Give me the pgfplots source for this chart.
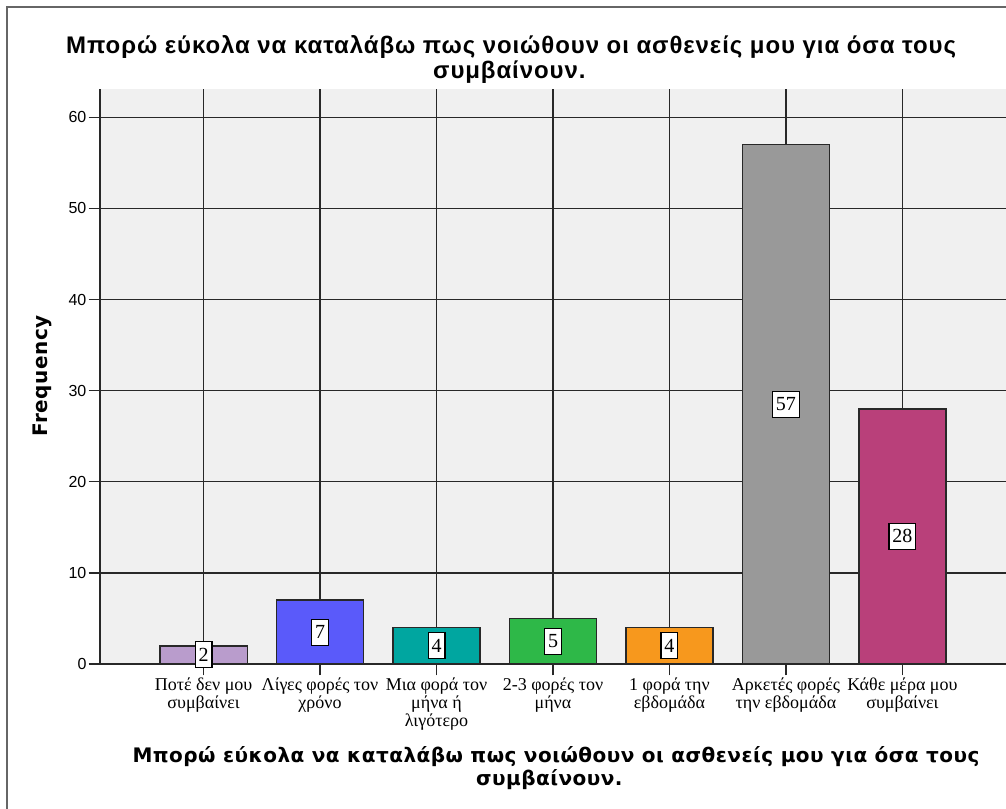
\documentclass[border=0pt]{standalone}
\usepackage{pgfplots}
\pgfplotsset{compat=1.18}
\usepackage{fontspec}
\setmainfont{Liberation Serif}
\newfontfamily\arial{Liberation Sans}
\newfontfamily\arialT{Liberation Sans}[LetterSpace=3.8]
\newfontfamily\dejavu{DejaVu Sans}
\newfontfamily\dejavuT{DejaVu Sans}[LetterSpace=2.4]
\definecolor{bgray}{RGB}{240,240,240}
\definecolor{gridc}{RGB}{40,40,40}
\definecolor{c1}{RGB}{185,156,204}
\definecolor{c2}{RGB}{90,90,250}
\definecolor{c3}{RGB}{0,166,160}
\definecolor{c4}{RGB}{46,184,72}
\definecolor{c5}{RGB}{247,152,29}
\definecolor{c6}{RGB}{153,153,153}
\definecolor{c7}{RGB}{185,64,122}
\begin{document}
\begin{tikzpicture}
\useasboundingbox (0,0) rectangle (754.5pt,-606pt);
\draw[black!60, line width=1.5pt] (5.25pt,-620pt) -- (5.25pt,-5.25pt) -- (770pt,-5.25pt);
\begin{axis}[
  at={(75pt,-498pt)}, anchor=south west,
  scale only axis, width=679.5pt, height=431.25pt,
  xmin=0.111, xmax=7.889, ymin=0, ymax=63.1,
  axis background/.style={fill=bgray},
  axis x line*=bottom, axis y line*=left,
  axis line style={-, gridc, line width=1.1pt},
  xtick={1,2,3,4,5,6,7}, ytick={0,10,20,30,40,50,60},
  xticklabels={{Ποτέ δεν μου\\συμβαίνει},{Λίγες φορές τον\\χρόνο},{Μια φορά τον\\μήνα ή\\λιγότερο},{2-3 φορές τον\\μήνα},{1 φορά την\\εβδομάδα},{Αρκετές φορές\\την εβδομάδα},{Κάθε μέρα μου\\συμβαίνει}},
  xticklabel style={font=\fontsize{13.5}{11.6}\selectfont, align=center, anchor=north, inner sep=0pt, yshift=-2pt},
  yticklabel style={font=\arial\fontsize{12}{14}\selectfont, anchor=east, inner sep=0pt, xshift=-1.5pt},
  /pgf/number format/assume math mode=true,
  tick align=outside, major tick length=8.5pt,
  tick style={gridc, line width=1.1pt},
  grid=major, major grid style={gridc, line width=1.1pt},
  ybar, bar width=0.75, bar shift=0pt,
  nodes near coords, nodes near coords align={center},
  visualization depends on={rawy \as \rawy},
  every node near coord/.append style={yshift={-\rawy*3.4172pt}, fill=white, draw=black, line width=0.8pt, font=\fontsize{15}{15}\selectfont, inner xsep=2.6pt, inner ysep=0pt, minimum height=19.5pt, text=black},
]
\addplot[fill=c1, draw=gridc, line width=1.1pt] coordinates {(1,2)};
\addplot[fill=c2, draw=gridc, line width=1.1pt] coordinates {(2,7)};
\addplot[fill=c3, draw=gridc, line width=1.1pt] coordinates {(3,4)};
\addplot[fill=c4, draw=gridc, line width=1.1pt] coordinates {(4,5)};
\addplot[fill=c5, draw=gridc, line width=1.1pt] coordinates {(5,4)};
\addplot[fill=c6, draw=gridc, line width=1.1pt] coordinates {(6,57)};
\addplot[fill=c7, draw=gridc, line width=1.1pt] coordinates {(7,28)};
\end{axis}
\node[anchor=base, inner sep=0pt, font=\arialT\bfseries\fontsize{18}{20}\selectfont] at (383.25pt,-40pt) {Μπορώ εύκολα να καταλάβω πως νοιώθουν οι ασθενείς μου για όσα τους};
\node[anchor=base, inner sep=0pt, font=\arialT\bfseries\fontsize{18}{20}\selectfont] at (382pt,-58.7pt) {συμβαίνουν.};
\node[anchor=base, inner sep=0pt, font=\dejavuT\bfseries\fontsize{15}{16}\selectfont] at (417pt,-571.5pt) {Μπορώ εύκολα να καταλάβω πως νοιώθουν οι ασθενείς μου για όσα τους};
\node[anchor=base, inner sep=0pt, font=\dejavuT\bfseries\fontsize{15}{16}\selectfont] at (412pt,-589.3pt) {συμβαίνουν.};
\node[anchor=base, inner sep=0pt, rotate=90, font=\dejavuT\bfseries\fontsize{15}{16}\selectfont] at (35.25pt,-282pt) {Frequency};
\end{tikzpicture}
\end{document}
